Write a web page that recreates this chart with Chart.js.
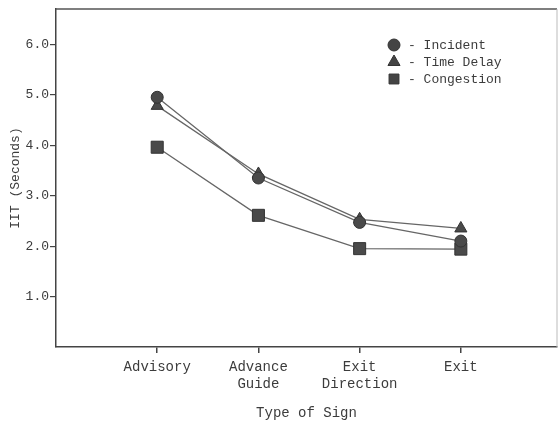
<!DOCTYPE html>
<html>
<head>
<meta charset="utf-8">
<script src="https://cdn.jsdelivr.net/npm/chart.js@4/dist/chart.umd.min.js"></script>
<style>
  html, body { margin: 0; padding: 0; background: #fff; overflow: hidden; }
  canvas { display: block; }
</style>
</head>
<body>
<canvas id="sign-chart" width="560" height="424"></canvas>
<script>
// values
const categories = [['Advisory'], ['Advance', 'Guide'], ['Exit', 'Direction'], ['Exit']];
const incident = [4.95, 3.35, 2.47, 2.10];
const timeDelay = [4.78, 3.43, 2.53, 2.35];
const congestion = [3.96, 2.61, 1.95, 1.94];
const yTicks = [1, 2, 3, 4, 5, 6];

const ink = '#3c3c3c';
const lineGray = '#666';
const mono = "'Liberation Mono', 'DejaVu Sans Mono', monospace";

const toPoints = arr => arr.map((v, i) => ({ x: i + 1, y: v }));

const series = [
  { label: 'Incident', data: incident, style: 'circle', radius: 6 },
  { label: 'Time Delay', data: timeDelay, style: 'triangle', radius: 7 },
  { label: 'Congestion', data: congestion, style: 'rect', radius: 8.5 }
];

// legend drawn inside the plot, top right
const innerLegend = {
  id: 'innerLegend',
  afterDraw(chart) {
    const ctx = chart.ctx;
    const area = chart.chartArea;
    const x0 = area.left + 338;
    const y0 = area.top + 36;
    ctx.save();
    ctx.font = '13px ' + mono;
    ctx.textBaseline = 'middle';
    series.forEach((s, i) => {
      const y = y0 + i * 17;
      ctx.fillStyle = '#444';
      ctx.strokeStyle = '#333';
      const r = s.style === 'rect' ? 7 : s.radius;
      Chart.helpers.drawPoint(ctx, { pointStyle: s.style, radius: r, borderWidth: 1, rotation: 0 }, x0, y);
      ctx.fillStyle = ink;
      ctx.fillText('- ' + s.label, x0 + 14, y + 1);
    });
    ctx.restore();
  }
};

// top and right frame lines
const frame = {
  id: 'frame',
  afterDraw(chart) {
    const ctx = chart.ctx;
    const a = chart.chartArea;
    ctx.save();
    ctx.strokeStyle = '#555';
    ctx.lineWidth = 1.5;
    ctx.beginPath();
    ctx.moveTo(a.left, a.top);
    ctx.lineTo(a.right, a.top);
    ctx.stroke();
    ctx.strokeStyle = '#bbb';
    ctx.lineWidth = 1;
    ctx.beginPath();
    ctx.moveTo(a.right, a.top);
    ctx.lineTo(a.right, a.bottom);
    ctx.stroke();
    ctx.restore();
  }
};

const signCtx = document.getElementById('sign-chart').getContext('2d');
const signChart = new Chart(signCtx, {
  type: 'line',
  plugins: [innerLegend, frame],
  data: {
    datasets: series.map(s => ({
      label: s.label,
      data: toPoints(s.data),
      borderColor: lineGray,
      borderWidth: 1.3,
      pointStyle: s.style,
      pointRadius: s.radius,
      pointBackgroundColor: '#4a4a4a',
      pointBorderColor: '#333',
      pointBorderWidth: 1,
      tension: 0,
      fill: false
    }))
  },
  options: {
    responsive: false,
    animation: false,
    layout: { autoPadding: false, padding: { top: 9, right: 3, left: 0, bottom: 0 } },
    plugins: {
      legend: { display: false },
      tooltip: { enabled: false }
    },
    scales: {
      x: {
        type: 'linear',
        min: 0,
        max: 4.95,
        afterBuildTicks: axis => { axis.ticks = categories.map((c, i) => ({ value: i + 1 })); },
        afterFit: axis => { axis.height = 77; axis.paddingLeft = 0; axis.paddingRight = 0; },
        border: { color: '#444', width: 1.5 },
        grid: { drawOnChartArea: false, color: '#444', lineWidth: 1.5, tickLength: 6 },
        ticks: {
          autoSkip: false,
          maxRotation: 0,
          padding: 6,
          color: ink,
          font: { family: mono, size: 14 },
          callback: v => categories[v - 1]
        },
        title: {
          display: true,
          text: 'Type of Sign',
          color: ink,
          font: { family: mono, size: 14 },
          padding: { top: 0, bottom: 2 }
        }
      },
      y: {
        min: 0,
        max: 6.7,
        afterBuildTicks: axis => { axis.ticks = yTicks.map(v => ({ value: v })); },
        afterFit: axis => { axis.width = 56; axis.paddingTop = 0; axis.paddingBottom = 0; },
        border: { color: '#444', width: 1.5 },
        grid: { drawOnChartArea: false, color: '#444', lineWidth: 1.2, tickLength: 6 },
        ticks: {
          padding: 1,
          color: ink,
          font: { family: mono, size: 13 },
          callback: v => v.toFixed(1)
        },
        title: {
          display: true,
          text: 'IIT (Seconds)',
          color: ink,
          font: { family: mono, size: 13 },
          padding: { top: 8, bottom: 0 }
        }
      }
    }
  }
});
</script>
</body>
</html>
